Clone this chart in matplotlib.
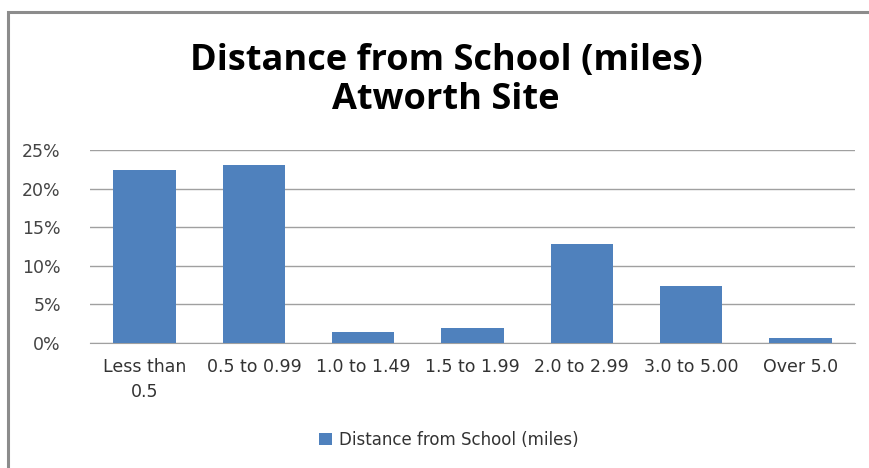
import matplotlib.pyplot as plt
from matplotlib.patches import Rectangle
from matplotlib.ticker import FuncFormatter

categories = ["Less than\n0.5", "0.5 to 0.99", "1.0 to 1.49", "1.5 to 1.99",
              "2.0 to 2.99", "3.0 to 5.00", "Over 5.0"]
values = [22.4, 23.1, 1.4, 1.9, 12.8, 7.4, 0.6]
series_name = "Distance from School (miles)"
title_lines = ["Distance from School (miles)", "Atworth Site"]

W, H = 869, 468
fig = plt.figure(figsize=(W / 100, H / 100), dpi=100)
fig.patch.set_facecolor("white")

# outer chart border (gray, visible on left and top)
fig.patches.append(Rectangle((8 / W, -0.1), 1.2, 1.1 - 12 / H,
                             transform=fig.transFigure, fill=False,
                             edgecolor="#8c8c8c", linewidth=2.2))

ax = fig.add_axes([90 / W, 1 - 343 / H, (855 - 90) / W, (343 - 150) / H])
x = range(len(categories))
ax.bar(x, values, width=0.57, color="#4f81bd", zorder=3, label=series_name)
ax.set_xlim(-0.5, len(categories) - 0.5)
ax.set_ylim(0, 25)
ax.set_yticks([0, 5, 10, 15, 20, 25])
ax.yaxis.set_major_formatter(FuncFormatter(lambda v, p: f"{v:.0f}%"))
ax.set_xticks(list(x))
ax.set_xticklabels(categories, fontsize=12.5, color="#333333", linespacing=1.5,
                   family="DejaVu Sans", va="top")
ax.tick_params(axis="y", labelsize=12.5, labelcolor="#444444", length=0, pad=21)
ax.tick_params(axis="x", length=0, pad=11)
ax.grid(axis="y", color="#a0a0a0", linewidth=1.0, zorder=0)
for s in ["top", "right", "left"]:
    ax.spines[s].set_visible(False)
ax.spines["bottom"].set_color("#a0a0a0")
for lab in ax.get_yticklabels():
    lab.set_family("DejaVu Sans")

cx = 446 / W
fig.text(cx, 1 - 70 / H, title_lines[0], ha="center", va="baseline",
         fontsize=26, fontweight="bold", family="Open Sans", color="#000000")
fig.text(cx, 1 - 109 / H, title_lines[1], ha="center", va="baseline",
         fontsize=26, fontweight="bold", family="Open Sans", color="#000000")

leg = fig.legend(loc="center", bbox_to_anchor=(449 / W, 1 - 440 / H), frameon=False,
                 handlelength=0.75, handleheight=0.75, handletextpad=0.45,
                 prop={"family": "DejaVu Sans", "size": 12})
for t in leg.get_texts():
    t.set_color("#333333")

fig.savefig("out.png", dpi=100)
